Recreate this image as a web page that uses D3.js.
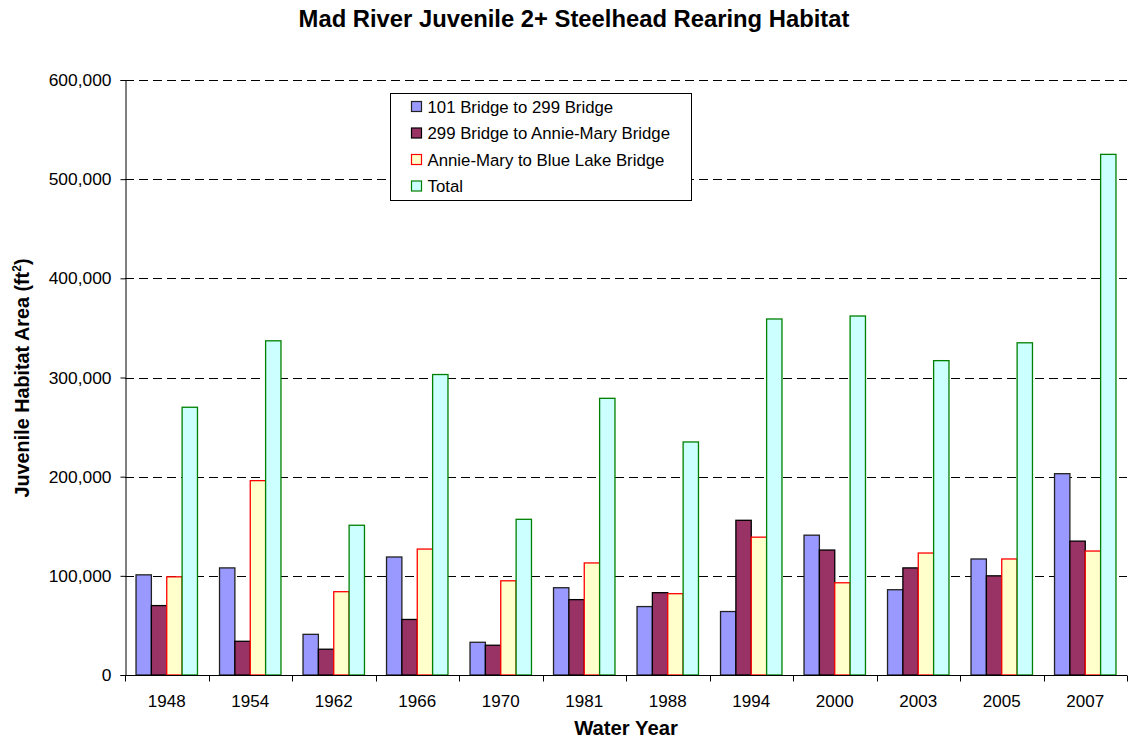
<!DOCTYPE html>
<html>
<head>
<meta charset="utf-8">
<script src="https://cdn.jsdelivr.net/npm/d3@7"></script>
<style>
  html, body { margin: 0; padding: 0; background: #fff; }
  svg { display: block; font-family: "Liberation Sans", Arial, sans-serif; }
</style>
</head>
<body>
<svg id="chart" width="1128" height="740"></svg>
<script>
// Water years on the x axis
const years = ["1948", "1954", "1962", "1966", "1970", "1981", "1988", "1994", "2000", "2003", "2005", "2007"];

// Juvenile habitat area (ft²) per reach
const reach101to299 = [101000, 108000, 41000, 119000, 33000, 88000, 69000, 64000, 141000, 86000, 117000, 203000];
const reach299toAnnieMary = [70000, 34000, 26000, 56000, 30000, 76000, 83000, 156000, 126000, 108000, 100000, 135000];
const reachAnnieMaryToBlueLake = [99000, 196000, 84000, 127000, 95000, 113000, 82000, 139000, 93000, 123000, 117000, 125000];
const totalArea = [270000, 337000, 151000, 303000, 157000, 279000, 235000, 359000, 362000, 317000, 335000, 525000];

const seriesNames = ["101 Bridge to 299 Bridge", "299 Bridge to Annie-Mary Bridge", "Annie-Mary to Blue Lake Bridge", "Total"];
const yTicks = [0, 100000, 200000, 300000, 400000, 500000, 600000];

const series = [
  { name: seriesNames[0], values: reach101to299, fill: "#9999FF", stroke: "#222222" },
  { name: seriesNames[1], values: reach299toAnnieMary, fill: "#993366", stroke: "#000000" },
  { name: seriesNames[2], values: reachAnnieMaryToBlueLake, fill: "#FFFFCC", stroke: "#FF0000" },
  { name: seriesNames[3], values: totalArea, fill: "#CCFFFF", stroke: "#008000" }
];

const svg = d3.select("#chart");
const margin = { left: 125, right: 1, top: 80, bottom: 65 };
const W = 1128, H = 740;
const x0 = margin.left, x1 = W - margin.right;
const yTop = margin.top, yBot = H - margin.bottom;

const x = d3.scaleBand().domain(years).range([x0, x1]).paddingInner(0).paddingOuter(0);
const xs = d3.scaleBand().domain(series.map(s => s.name))
  .range([x.bandwidth() * 0.132, x.bandwidth() * 0.868]).padding(0);
const y = d3.scaleLinear().domain([0, 600000]).range([yBot, yTop]);

// Title
svg.append("text")
  .attr("x", 574).attr("y", 27)
  .attr("text-anchor", "middle")
  .attr("font-size", 23.8).attr("font-weight", "bold")
  .text("Mad River Juvenile 2+ Steelhead Rearing Habitat");

// Dashed gridlines
svg.append("g").selectAll("line")
  .data(yTicks.filter(t => t > 0))
  .join("line")
  .attr("x1", x0).attr("x2", x1)
  .attr("y1", d => Math.round(y(d)) + 0.5).attr("y2", d => Math.round(y(d)) + 0.5)
  .attr("stroke", "#000").attr("stroke-width", 1)
  .attr("stroke-dasharray", "9,5");

// Bars
const groups = svg.append("g").selectAll("g")
  .data(years)
  .join("g")
  .attr("transform", d => `translate(${x(d)},0)`);

groups.selectAll("rect")
  .data((d, i) => series.map(s => ({ s, v: s.values[i] })))
  .join("rect")
  .attr("x", d => xs(d.s.name))
  .attr("width", xs.bandwidth())
  .attr("y", d => y(d.v))
  .attr("height", d => y(0) - y(d.v))
  .attr("fill", d => d.s.fill)
  .attr("stroke", d => d.s.stroke)
  .attr("stroke-width", 1.3);

// Y axis
const yAxis = d3.axisLeft(y).tickValues(yTicks)
  .tickFormat(d3.format(",")).tickSizeOuter(0).tickSize(5).tickPadding(9);
const gy = svg.append("g").attr("transform", `translate(${x0 + 0.5},0)`).call(yAxis);
gy.selectAll("text").attr("font-size", 17.4).attr("fill", "#000")
  .attr("font-family", "Liberation Sans, Arial, sans-serif");
gy.selectAll("line, path").attr("stroke", "#000");

// X axis: ticks at category boundaries
const gx = svg.append("g").attr("transform", `translate(0,${yBot + 0.5})`);
gx.append("line").attr("x1", x0).attr("x2", x1).attr("stroke", "#000");
gx.selectAll(".bt")
  .data(years.map(d => x(d)).concat([x1]))
  .join("line")
  .attr("class", "bt")
  .attr("x1", d => Math.round(d) + 0.5).attr("x2", d => Math.round(d) + 0.5)
  .attr("y1", 0).attr("y2", 6)
  .attr("stroke", "#000");
gx.selectAll("text")
  .data(years)
  .join("text")
  .attr("x", d => x(d) + x.bandwidth() / 2)
  .attr("y", 31)
  .attr("text-anchor", "middle")
  .attr("font-size", 17)
  .text(d => d);

// Axis titles
svg.append("text")
  .attr("x", 626).attr("y", 735)
  .attr("text-anchor", "middle")
  .attr("font-size", 20.3).attr("font-weight", "bold")
  .text("Water Year");

const yt = svg.append("text")
  .attr("transform", "translate(29,378) rotate(-90)")
  .attr("text-anchor", "middle")
  .attr("font-size", 19.8).attr("font-weight", "bold");
yt.append("tspan").text("Juvenile Habitat Area (ft");
yt.append("tspan").attr("font-size", 12).attr("dy", -8).text("2");
yt.append("tspan").attr("dy", 8).text(")");

// Legend
const lg = svg.append("g").attr("transform", "translate(390.5,93.5)");
lg.append("rect").attr("width", 301).attr("height", 107)
  .attr("fill", "#fff").attr("stroke", "#000").attr("stroke-width", 1);
const li = lg.selectAll("g").data(series).join("g")
  .attr("transform", (d, i) => `translate(21,${13 + i * 26.5})`);
li.append("rect").attr("x", 0).attr("y", -5).attr("width", 10).attr("height", 10)
  .attr("fill", d => d.fill).attr("stroke", d => d.stroke).attr("stroke-width", 1.2);
li.append("text").attr("x", 16).attr("y", 6)
  .attr("font-size", 16.8).text(d => d.name);
</script>
</body>
</html>
